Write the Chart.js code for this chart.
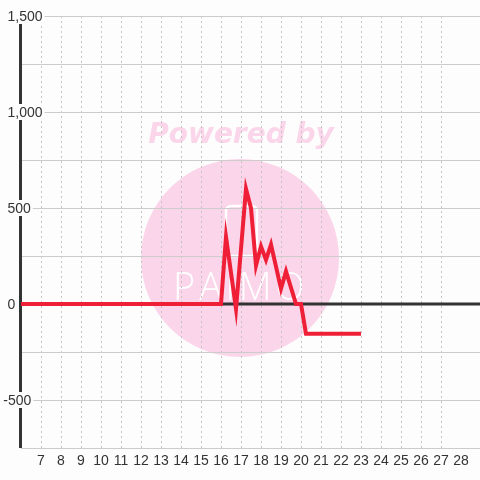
<!DOCTYPE html>
<html>
<head>
<meta charset="utf-8">
<script src="https://cdn.jsdelivr.net/npm/chart.js@4"></script>
<style>
html,body{margin:0;padding:0;background:#fcfdfc;}
#wrap{width:480px;height:480px;}
</style>
</head>
<body>
<div id="wrap"><canvas id="c" width="480" height="480"></canvas></div>
<script>
// Data
const xValues = [6, 16, 16.25, 16.75, 17.25, 17.5, 17.75, 18, 18.25, 18.5, 19, 19.25, 19.75, 20, 20.25, 23];
const yValues = [0, 0, 350, -25, 600, 500, 200, 300, 230, 310, 80, 170, 0, 0, -155, -155];
const xTickValues = [7,8,9,10,11,12,13,14,15,16,17,18,19,20,21,22,23,24,25,26,27,28];
const xTickLabels = ['7','8','9','10','11','12','13','14','15','16','17','18','19','20','21','22','23','24','25','26','27','28'];
const yTickValues = [1500, 1000, 500, 0, -500];
const yTickLabels = ['1,500', '1,000', '500', '0', '-500'];

const BG = '#fcfdfc';
const PINK = '#fbd5ea';
const TEXT = '#333333';
const FONT = '14px "Liberation Sans", Arial, sans-serif';

const custom = {
  id: 'custom',
  beforeDraw(chart) {
    const ctx = chart.ctx;
    ctx.save();
    ctx.fillStyle = BG;
    ctx.fillRect(0, 0, chart.width, chart.height);
    // watermark
    ctx.fillStyle = PINK;
    ctx.beginPath();
    ctx.arc(240, 258, 99, 0, Math.PI * 2);
    ctx.fill();
    ctx.font = 'italic bold 28px "DejaVu Sans"';
    ctx.textAlign = 'center';
    ctx.textBaseline = 'alphabetic';
    ctx.fillText('Powered by', 241, 143);
    ctx.strokeStyle = '#ffffff';
    ctx.lineWidth = 2.5;
    ctx.beginPath();
    ctx.roundRect(226, 206, 31, 50, 5);
    ctx.stroke();
    ctx.fillStyle = '#ffffff';
    ctx.font = '300 38px "Open Sans"';
    try { ctx.letterSpacing = '4px'; } catch (e) {}
    ctx.textAlign = 'left';
    ctx.fillText('PAiMO', 173, 300);
    ctx.restore();
  },
  beforeDatasetsDraw(chart) {
    const ctx = chart.ctx;
    const xs = chart.scales.x, ys = chart.scales.y;
    const area = chart.chartArea;
    ctx.save();
    // zero line
    const y0 = ys.getPixelForValue(0);
    ctx.strokeStyle = '#333333';
    ctx.lineWidth = 3;
    ctx.beginPath();
    ctx.moveTo(area.left, y0);
    ctx.lineTo(area.right, y0);
    ctx.stroke();
    // left axis
    ctx.beginPath();
    ctx.moveTo(20.5, area.top);
    ctx.lineTo(20.5, area.bottom);
    ctx.stroke();
    // y labels with background
    ctx.font = FONT;
    ctx.textBaseline = 'middle';
    ctx.textAlign = 'left';
    const minusW = ctx.measureText('-').width;
    yTickValues.forEach((v, i) => {
      const lab = yTickLabels[i];
      const py = ys.getPixelForValue(v);
      const w = ctx.measureText(lab).width;
      const x0 = lab.startsWith('-') ? 8 - minusW : 7.5;
      ctx.fillStyle = BG;
      ctx.fillRect(x0 - 2, py - 8, w + 4, 16);
      ctx.fillStyle = TEXT;
      ctx.fillText(lab, x0, py + 1);
    });
    // x labels
    ctx.textAlign = 'center';
    xTickValues.forEach((v, i) => {
      ctx.fillText(xTickLabels[i], xs.getPixelForValue(v), 461);
    });
    ctx.restore();
  }
};

new Chart(document.getElementById('c'), {
  type: 'line',
  data: {
    datasets: [{
      data: xValues.map((x, i) => ({x: x, y: yValues[i]})),
      borderColor: '#ee1f36',
      borderWidth: 4,
      borderJoinStyle: 'miter',
      pointRadius: 0,
      tension: 0,
      fill: false
    }]
  },
  options: {
    responsive: false,
    animation: false,
    devicePixelRatio: 1,
    layout: {padding: {left: 21, top: 16, right: 0, bottom: 32}},
    plugins: {legend: {display: false}, tooltip: {enabled: false}},
    scales: {
      x: {
        type: 'linear',
        min: 6,
        max: 28.95,
        ticks: {display: false, stepSize: 1},
        grid: {color: '#c4c4c4', lineWidth: 1, drawTicks: false},
        border: {display: false, dash: [2, 3]}
      },
      y: {
        type: 'linear',
        min: -750,
        max: 1500,
        ticks: {display: false, stepSize: 250},
        grid: {color: '#cccccc', lineWidth: 1, drawTicks: false},
        border: {display: false}
      }
    }
  },
  plugins: [custom]
});
</script>
</body>
</html>
